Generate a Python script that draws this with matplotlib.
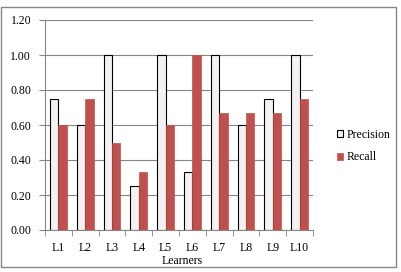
import numpy as np
import matplotlib
matplotlib.use('Agg')
from matplotlib import pyplot as plt
from matplotlib.patches import Rectangle

learners = ['L1', 'L2', 'L3', 'L4', 'L5', 'L6', 'L7', 'L8', 'L9', 'L10']
precision = [0.75, 0.60, 1.00, 0.25, 1.00, 0.33, 1.00, 0.60, 0.75, 1.00]
recall = [0.60, 0.75, 0.50, 0.33, 0.60, 1.00, 0.67, 0.67, 0.67, 0.75]
yticks = [0.0, 0.2, 0.4, 0.6, 0.8, 1.0, 1.2]

plt.rcParams['font.family'] = 'Liberation Serif'
plt.rcParams['font.size'] = 8.5

W, H = 401, 272
fig = plt.figure(figsize=(W / 100, H / 100), dpi=100)
# outer chart border
fig.patches.append(Rectangle((1 / W, 1 - 267 / H), 394.5 / W, 260 / H, transform=fig.transFigure,
                             fill=False, edgecolor='#868686', linewidth=1.0))

ax = fig.add_axes([45 / W, 1 - 230 / H, 268 / W, 210 / H])
x = np.arange(len(learners))
bw = 0.31
ax.bar(x - bw / 2, precision, bw, color='#f2f2f2', edgecolor='black', linewidth=0.8,
       label='Precision', zorder=3)
ax.bar(x + bw / 2, recall, bw, color='#c0504d', edgecolor='#c0504d', linewidth=0.5,
       label='Recall', zorder=3)

ax.set_xlim(-0.5, len(learners) - 0.5)
ax.set_ylim(0, 1.2)
ax.set_yticks(yticks)
ax.set_yticklabels(['%.2f' % v for v in yticks])
ax.yaxis.grid(True, color='#868686', linewidth=0.8, zorder=0)
ax.set_axisbelow(True)

ax.set_xticks(x)
ax.set_xticklabels(learners)
ax.set_xticks(np.arange(len(learners) + 1) - 0.5, minor=True)
ax.tick_params(axis='x', which='major', length=0, pad=8.5)
ax.tick_params(axis='x', which='minor', length=4, color='#868686', direction='out')
ax.tick_params(axis='y', length=4, color='#868686', direction='out', pad=6)

for s in ['top', 'right']:
    ax.spines[s].set_visible(False)
for s in ['left', 'bottom']:
    ax.spines[s].set_color('#868686')
    ax.spines[s].set_linewidth(0.8)

fig.text(182 / W, 1 - 261 / H, 'Learners', ha='center', va='center', fontsize=8.5)

leg = ax.legend(loc='upper left', bbox_to_anchor=(326 / W, 1 - 118 / H), bbox_transform=fig.transFigure,
                frameon=False, handlelength=0.55, handleheight=0.55, handletextpad=0.3,
                labelspacing=0.9, fontsize=8.5)

fig.savefig('out.png', dpi=100)
